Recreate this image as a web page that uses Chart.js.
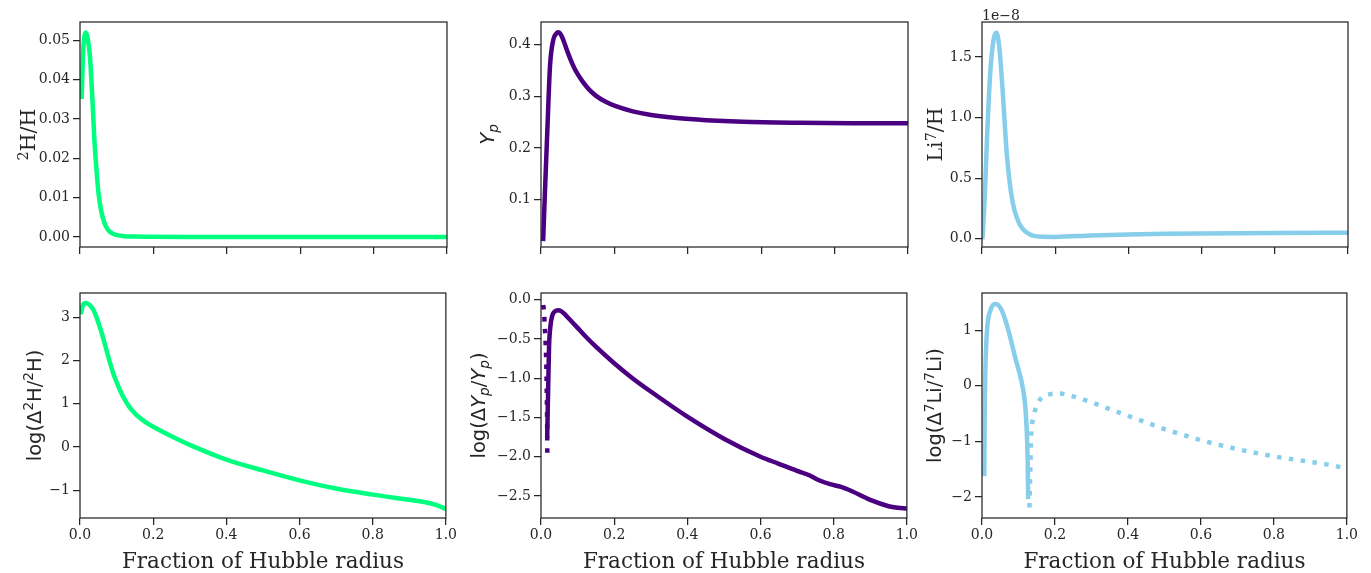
<!DOCTYPE html>
<html lang="en">
<head>
<meta charset="UTF-8">
<title>Light element abundances vs. fraction of Hubble radius</title>
<script src="https://cdn.jsdelivr.net/npm/chart.js"></script>
<style>
  html, body { margin: 0; padding: 0; background: #ffffff; }
  body { position: relative; width: 1371px; height: 573px; overflow: hidden; }
  canvas { position: absolute; }
</style>
</head>
<body>
<canvas id="deut"></canvas>
<canvas id="deutErr"></canvas>
<canvas id="helium"></canvas>
<canvas id="heliumErr"></canvas>
<canvas id="lithium"></canvas>
<canvas id="lithiumErr"></canvas>
<script>
// shared x ticks (fraction of Hubble radius)
const xTicks = [0, 0.2, 0.4, 0.6, 0.8, 1.0];

// 2H/H
const deutX = [0.0046, 0.008, 0.012, 0.016, 0.021, 0.027, 0.033, 0.039, 0.045, 0.05, 0.057, 0.065, 0.075, 0.087, 0.1, 0.12, 0.15, 0.2, 0.3, 0.5, 0.75, 1.0];
const deutY = [0.0357, 0.0462, 0.0510, 0.0520, 0.0505, 0.0460, 0.0365, 0.0250, 0.0170, 0.0115, 0.0070, 0.0040, 0.0020, 0.0010, 0.0005, 0.00022, 0.0001, 0.00005, 0.00002, 0.00001, 0.0, 0.0];
const deutTicks = [0, 0.01, 0.02, 0.03, 0.04, 0.05];

// log(delta 2H / 2H)
const deutErrX = [0.003, 0.009, 0.016, 0.024, 0.036, 0.046, 0.055, 0.064, 0.073, 0.082, 0.091, 0.1, 0.11, 0.12, 0.13, 0.14, 0.15, 0.16, 0.18, 0.2, 0.25, 0.3, 0.4, 0.5, 0.6, 0.7, 0.8, 0.9, 0.94, 0.97, 1.0];
const deutErrY = [3.12, 3.30, 3.33, 3.30, 3.18, 2.98, 2.75, 2.50, 2.22, 1.95, 1.70, 1.50, 1.30, 1.13, 0.99, 0.87, 0.78, 0.70, 0.57, 0.47, 0.25, 0.05, -0.29, -0.54, -0.77, -0.96, -1.10, -1.22, -1.27, -1.33, -1.43];
const deutErrTicks = [-1, 0, 1, 2, 3];

// helium mass fraction Y_p
const heliumX = [0.006, 0.011, 0.017, 0.0245, 0.0336, 0.041, 0.047, 0.052, 0.058, 0.065, 0.072, 0.08, 0.09, 0.1, 0.115, 0.13, 0.15, 0.175, 0.2, 0.25, 0.3, 0.37, 0.45, 0.55, 0.7, 0.85, 1.0];
const heliumY = [0.024, 0.12, 0.229, 0.358, 0.41, 0.421, 0.424, 0.422, 0.414, 0.401, 0.387, 0.372, 0.356, 0.343, 0.327, 0.314, 0.301, 0.290, 0.282, 0.271, 0.264, 0.258, 0.254, 0.251, 0.249, 0.248, 0.248];
const heliumTicks = [0.1, 0.2, 0.3, 0.4];

// log(delta Y_p / Y_p): positive branch (solid) and negative branch (dotted)
const heliumErrX = [0.017, 0.0195, 0.022, 0.026, 0.031, 0.038, 0.047, 0.056, 0.066, 0.08, 0.1, 0.12, 0.15, 0.2, 0.25, 0.3, 0.4, 0.5, 0.6, 0.65, 0.7, 0.73, 0.76, 0.79, 0.82, 0.85, 0.9, 0.95, 0.975, 1.0];
const heliumErrY = [-1.73, -1.15, -0.6, -0.33, -0.2, -0.15, -0.136, -0.15, -0.19, -0.26, -0.36, -0.46, -0.6, -0.81, -1.0, -1.17, -1.49, -1.77, -2.0, -2.09, -2.18, -2.23, -2.30, -2.35, -2.385, -2.44, -2.55, -2.63, -2.65, -2.66];
const heliumNegX = [0.006, 0.009, 0.010, 0.0117, 0.0128, 0.0146, 0.0155, 0.0163, 0.017, 0.0172];
const heliumNegY = [-0.07, -0.2, -0.33, -0.45, -0.58, -0.84, -1.11, -1.37, -1.71, -1.96];
const heliumErrTicks = [-2.5, -2, -1.5, -1, -0.5, 0];

// 7Li/H in units of 1e-8
const lithX = [0.0016, 0.008, 0.0137, 0.0227, 0.032, 0.039, 0.047, 0.056, 0.068, 0.082, 0.1, 0.127, 0.164, 0.2, 0.3, 0.4, 0.5, 0.6, 0.8, 1.0];
const lithY = [0.013, 0.38, 0.83, 1.38, 1.65, 1.70, 1.59, 1.24, 0.69, 0.33, 0.137, 0.041, 0.016, 0.015, 0.027, 0.035, 0.040, 0.043, 0.047, 0.050];
const lithTicks = [0, 0.5, 1.0, 1.5];

// log(delta 7Li / 7Li): positive branch (solid) and negative branch (dotted)
const lithErrX = [0.0063, 0.0071, 0.009, 0.0137, 0.0227, 0.038, 0.0546, 0.0727, 0.091, 0.103, 0.109, 0.114, 0.118, 0.121, 0.1235, 0.1253, 0.1265];
const lithErrY = [-1.59, -0.69, 0.21, 0.99, 1.35, 1.47, 1.35, 0.99, 0.51, 0.22, 0.06, -0.12, -0.33, -0.6, -0.95, -1.4, -2.0];
const lithNegX = [0.130, 0.132, 0.1347, 0.141, 0.150, 0.164, 0.187, 0.209, 0.255, 0.3, 0.35, 0.4, 0.45, 0.5, 0.55, 0.6, 0.7, 0.8, 0.9, 0.95, 1.0];
const lithNegY = [-2.19, -1.65, -0.93, -0.57, -0.36, -0.21, -0.15, -0.138, -0.2, -0.3, -0.42, -0.54, -0.66, -0.78, -0.88, -0.98, -1.14, -1.27, -1.37, -1.42, -1.49];
const lithErrTicks = [-2, -1, 0, 1];

const GREEN = '#00ff7f', PURPLE = '#4b0082', BLUE = '#87ceeb';
const INK = '#262626';
const LW = 4.5;
const serif = px => px + 'px "DejaVu Serif"';
const sans = px => px + 'px "DejaVu Sans"';
const ital = px => 'italic ' + px + 'px "DejaVu Sans"';

// plot-area edges in page pixels
const colLeft = [80, 541, 982], colRight = [447, 908, 1348];
const rowTop = [22, 293], rowBottom = [247, 518];
const AXIS_W = 80, AXIS_H = 56, PAD_TOP = 22, PAD_RIGHT = 12;

// draws a run of differently styled text pieces around a baseline centre
function drawRich(ctx, segs, x, y, rotated) {
  ctx.save();
  ctx.translate(x, y);
  if (rotated) ctx.rotate(-Math.PI / 2);
  ctx.fillStyle = INK;
  ctx.textBaseline = 'alphabetic';
  ctx.textAlign = 'left';
  let w = 0;
  segs.forEach(s => { ctx.font = s.font; w += ctx.measureText(s.text).width; });
  let cx = -w / 2;
  segs.forEach(s => {
    ctx.font = s.font;
    ctx.fillText(s.text, cx, -(s.rise || 0));
    cx += ctx.measureText(s.text).width;
  });
  ctx.restore();
}

function curve(xs, ys, color, dotted) {
  return {
    data: xs.map((x, i) => ({ x, y: ys[i] })),
    borderColor: color,
    borderWidth: LW,
    pointRadius: 0,
    fill: false,
    clip: 0,
    cubicInterpolationMode: 'monotone',
    borderDash: dotted ? [LW, LW * 1.65] : [],
    borderCapStyle: dotted ? 'butt' : 'square',
    borderJoinStyle: 'round'
  };
}

const fmt = (v, digits) => v.toFixed(digits).replace('-', '\u2212');

// label pieces: plain text, superscripts and subscripts
const SERIF = 20.5, SANS = 19.5;
const sRun = t => ({ text: t, font: serif(SERIF) });
const sSup = t => ({ text: t, font: serif(SERIF * 0.7), rise: 6.5 });
const nRun = t => ({ text: t, font: sans(SANS) });
const nSup = t => ({ text: t, font: sans(SANS * 0.7), rise: 7.5 });
const iRun = t => ({ text: t, font: ital(SANS) });
const iSub = t => ({ text: t, font: ital(SANS * 0.7), rise: -3.5 });

function panel(id, col, row, cfg) {
  const canvas = document.getElementById(id);
  canvas.width = colRight[col] - colLeft[col] + AXIS_W + PAD_RIGHT;
  canvas.height = rowBottom[row] - rowTop[row] + PAD_TOP + AXIS_H;
  canvas.style.left = (colLeft[col] - AXIS_W) + 'px';
  canvas.style.top = (rowTop[row] - PAD_TOP) + 'px';
  const bottomRow = row === 1;
  const tickFont = { family: '"DejaVu Serif"', size: 14 };
  const grid = () => ({ drawOnChartArea: false, drawTicks: true, tickLength: 7, color: INK, lineWidth: 1.25 });

  new Chart(canvas, {
    type: 'line',
    data: { datasets: cfg.series },
    options: {
      responsive: false,
      animation: false,
      events: [],
      layout: { padding: { top: PAD_TOP, right: PAD_RIGHT, left: 0, bottom: 0 } },
      plugins: { legend: { display: false }, tooltip: { enabled: false } },
      scales: {
        x: {
          type: 'linear', min: 0, max: 1,
          border: { display: false },
          grid: grid(),
          afterBuildTicks: s => { s.ticks = xTicks.map(value => ({ value })); },
          afterFit: s => { s.height = AXIS_H; },
          ticks: { display: bottomRow, font: tickFont, color: INK, padding: 2, maxRotation: 0, autoSkip: false,
                   callback: v => fmt(v, 1) }
        },
        y: {
          type: 'linear', min: cfg.yMin, max: cfg.yMax,
          border: { display: false },
          grid: grid(),
          afterBuildTicks: s => { s.ticks = cfg.yTicks.map(value => ({ value })); },
          afterFit: s => { s.width = AXIS_W; },
          ticks: { font: tickFont, color: INK, padding: 3, autoSkip: false,
                   callback: v => fmt(v, cfg.digits) }
        }
      }
    },
    plugins: [{
      id: 'frameAndLabels',
      afterDraw(chart) {
        const { ctx, chartArea: a } = chart;
        ctx.save();
        ctx.strokeStyle = INK;
        ctx.lineWidth = 1.25;
        ctx.strokeRect(a.left, a.top, a.right - a.left, a.bottom - a.top);
        ctx.restore();
        drawRich(ctx, cfg.title, cfg.titleX, (a.top + a.bottom) / 2, true);
        if (bottomRow) {
          drawRich(ctx, [{ text: 'Fraction of Hubble radius', font: serif(21.5) }], (a.left + a.right) / 2, a.bottom + 50, false);
        }
        if (cfg.offsetText) {
          ctx.save();
          ctx.fillStyle = INK;
          ctx.font = serif(14);
          ctx.textBaseline = 'alphabetic';
          ctx.fillText(cfg.offsetText, a.left, a.top - 2);
          ctx.restore();
        }
      }
    }]
  });
}

panel('deut', 0, 0, {
  series: [curve(deutX, deutY, GREEN, false)],
  yMin: -0.00254, yMax: 0.0547, yTicks: deutTicks, digits: 2, titleX: 34.5,
  title: [sSup('2'), sRun('H/H')]
});

panel('deutErr', 0, 1, {
  series: [curve(deutErrX, deutErrY, GREEN, false)],
  yMin: -1.64, yMax: 3.56, yTicks: deutErrTicks, digits: 0, titleX: 40.5,
  title: [nRun('log(\u0394'), nSup('2'), nRun('H/'), nSup('2'), nRun('H)')]
});

panel('helium', 1, 0, {
  series: [curve(heliumX, heliumY, PURPLE, false)],
  yMin: 0.0084, yMax: 0.444, yTicks: heliumTicks, digits: 1, titleX: 33,
  title: [iRun('Y'), iSub('p')]
});

panel('heliumErr', 1, 1, {
  series: [curve(heliumErrX, heliumErrY, PURPLE, false), curve(heliumNegX, heliumNegY, PURPLE, true)],
  yMin: -2.78, yMax: 0.084, yTicks: heliumErrTicks, digits: 1, titleX: 24.4,
  title: [nRun('log(\u0394'), iRun('Y'), iSub('p'), nRun('/'), iRun('Y'), iSub('p'), nRun(')')]
});

panel('lithium', 2, 0, {
  series: [curve(lithX, lithY, BLUE, false)],
  yMin: -0.0685, yMax: 1.789, yTicks: lithTicks, digits: 1, titleX: 40,
  offsetText: '1e\u22128',
  title: [sRun('Li'), sSup('7'), sRun('/H')]
});

panel('lithiumErr', 2, 1, {
  series: [curve(lithErrX, lithErrY, BLUE, false), curve(lithNegX, lithNegY, BLUE, true)],
  yMin: -2.38, yMax: 1.67, yTicks: lithErrTicks, digits: 0, titleX: 39.4,
  title: [nRun('log(\u0394'), nSup('7'), nRun('Li/'), nSup('7'), nRun('Li)')]
});
</script>
</body>
</html>
